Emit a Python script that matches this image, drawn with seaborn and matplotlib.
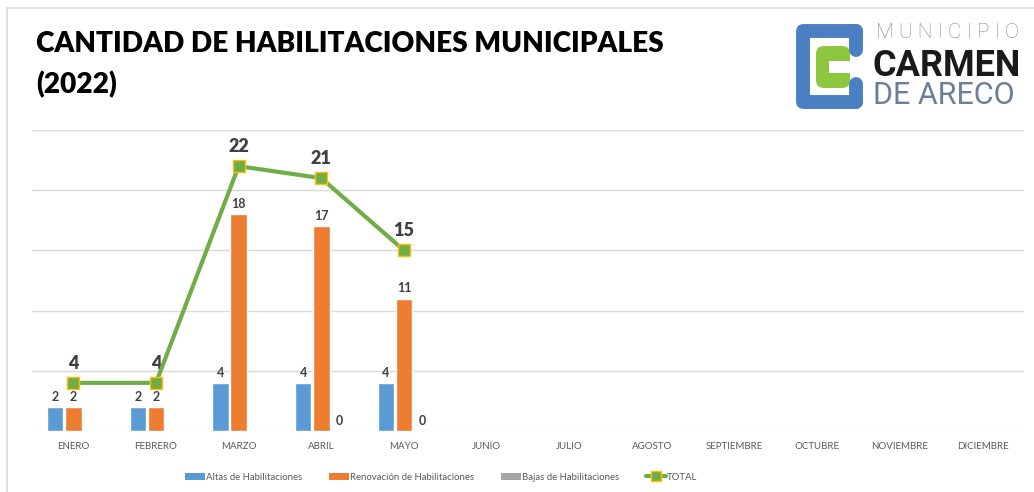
import numpy as np
import pandas as pd
import matplotlib
matplotlib.use("Agg")
import matplotlib.pyplot as plt
import seaborn as sns
from matplotlib.patches import FancyBboxPatch, Rectangle, Patch
from matplotlib.lines import Line2D

months = ["ENERO", "FEBRERO", "MARZO", "ABRIL", "MAYO", "JUNIO", "JULIO",
          "AGOSTO", "SEPTIEMBRE", "OCTUBRE", "NOVIEMBRE", "DICIEMBRE"]
altas = [2, 2, 4, 4, 4, np.nan, np.nan, np.nan, np.nan, np.nan, np.nan, np.nan]
renovacion = [2, 2, 18, 17, 11, np.nan, np.nan, np.nan, np.nan, np.nan, np.nan, np.nan]
bajas = [np.nan, np.nan, np.nan, 0, 0, np.nan, np.nan, np.nan, np.nan, np.nan, np.nan, np.nan]
total = [4, 4, 22, 21, 15, np.nan, np.nan, np.nan, np.nan, np.nan, np.nan, np.nan]
series_names = ["Altas de Habilitaciones", "Renovación de Habilitaciones",
                "Bajas de Habilitaciones"]
total_name = "TOTAL"
title_text = "CANTIDAD DE HABILITACIONES MUNICIPALES\n(2022)"

colors = ["#5B9BD5", "#ED7D31", "#A5A5A5"]
green = "#70AD47"
gold = "#FFC000"
txt = "#404040"

sns.set_theme(style="white")
plt.rcParams["font.family"] = ["Lato", "DejaVu Sans"]

W, H = 1034, 492
fig = plt.figure(figsize=(W / 100, H / 100), dpi=100)

df = pd.DataFrame({
    "mes": months * 3,
    "serie": sum([[s] * len(months) for s in series_names], []),
    "valor": altas + renovacion + bajas,
})

ax = fig.add_axes([32 / W, 1 - 431 / H, (1024 - 32) / W, (431 - 130) / H])
sns.barplot(data=df, x="mes", y="valor", hue="serie", order=months,
            hue_order=series_names, palette=colors, width=0.66, gap=0.1,
            saturation=1, errorbar=None, ax=ax, legend=False)

for cont in ax.containers:
    labels = []
    for b in cont:
        h = b.get_height()
        labels.append("" if np.isnan(h) else f"{h:.0f}")
    ax.bar_label(cont, labels=labels, padding=3, fontsize=9, fontweight="bold",
                 color=txt)

xpos = np.arange(len(months))
ax.plot(xpos, total, color=green, lw=3, marker="s", markersize=9,
        markerfacecolor=green, markeredgecolor=gold, markeredgewidth=1, zorder=5)
for x, v in zip(xpos, total):
    if not np.isnan(v):
        ax.annotate(f"{v:.0f}", (x, v), xytext=(0, 8), textcoords="offset points",
                    ha="center", va="bottom", fontsize=13, fontweight="heavy",
                    color=txt)

ax.set_ylim(0, 25)
ax.set_xlim(-0.5, 11.5)
ax.set_yticks(np.arange(0, 26, 5))
ax.yaxis.grid(True, color="#D9D9D9", lw=1)
ax.set_axisbelow(True)
ax.tick_params(axis="y", left=False, labelleft=False)
ax.tick_params(axis="x", bottom=False, length=0, pad=8, labelsize=7,
               labelcolor="#595959")
ax.set_xlabel("")
ax.set_ylabel("")
for s in ax.spines.values():
    s.set_visible(False)

handles = [Patch(facecolor=c, edgecolor="none") for c in colors]
handles.append(Line2D([], [], color=green, lw=3, marker="s", markersize=7,
                      markerfacecolor=green, markeredgecolor=gold))
fig.legend(handles, series_names + [total_name], loc="center",
           bbox_to_anchor=(441 / W, 1 - 477 / H), ncol=4, frameon=False,
           fontsize=6.9, labelcolor="#595959", columnspacing=2.8,
           handlelength=2.1, handletextpad=0.1, handleheight=0.8)

# overlay for title, border and logo (pixel coordinates)
ov = fig.add_axes([0, 0, 1, 1], zorder=-1)
ov.set_xlim(0, W)
ov.set_ylim(H, 0)
ov.axis("off")
ov.plot([7, W], [8, 8], color="#D9D9D9", lw=1.2)
ov.plot([7, 7], [8, H], color="#D9D9D9", lw=1.2)

fig.text(36 / W, 1 - 31 / H, title_text, ha="left", va="top", fontsize=20.2,
         fontweight="heavy", color="black", linespacing=1.6)

# logo
ov.plot([856, 803, 803, 856], [31, 31, 102, 102], color="#4A7FC1", lw=10,
        solid_joinstyle="round", solid_capstyle="round")
ov.plot([856, 856], [31, 50], color="#4A7FC1", lw=10, solid_capstyle="round")
ov.plot([856, 856], [102, 84], color="#4A7FC1", lw=10, solid_capstyle="round")
ov.add_patch(FancyBboxPatch((816, 46), 34, 42, boxstyle="round,pad=0,rounding_size=8",
                            facecolor="#8DC63F", edgecolor="none"))
ov.add_patch(Rectangle((829, 61), 22, 12, facecolor="white", edgecolor="none"))
fig.text(876 / W, 1 - 32 / H, "M U N I C I P I O", ha="left", va="center",
         fontsize=15, fontweight="light", color="#8A8A8A",
         family=["Roboto", "DejaVu Sans"])
fig.text(872 / W, 1 - 66 / H, "CARMEN", ha="left", va="center", fontsize=26,
         fontweight="bold", color="#1A1A1A", family=["Roboto", "DejaVu Sans"])
fig.text(873 / W, 1 - 96 / H, "DE ARECO", ha="left", va="center", fontsize=22,
         fontweight="normal", color="#6B7F99", family=["Roboto", "DejaVu Sans"])

fig.savefig("out.png", dpi=100)
